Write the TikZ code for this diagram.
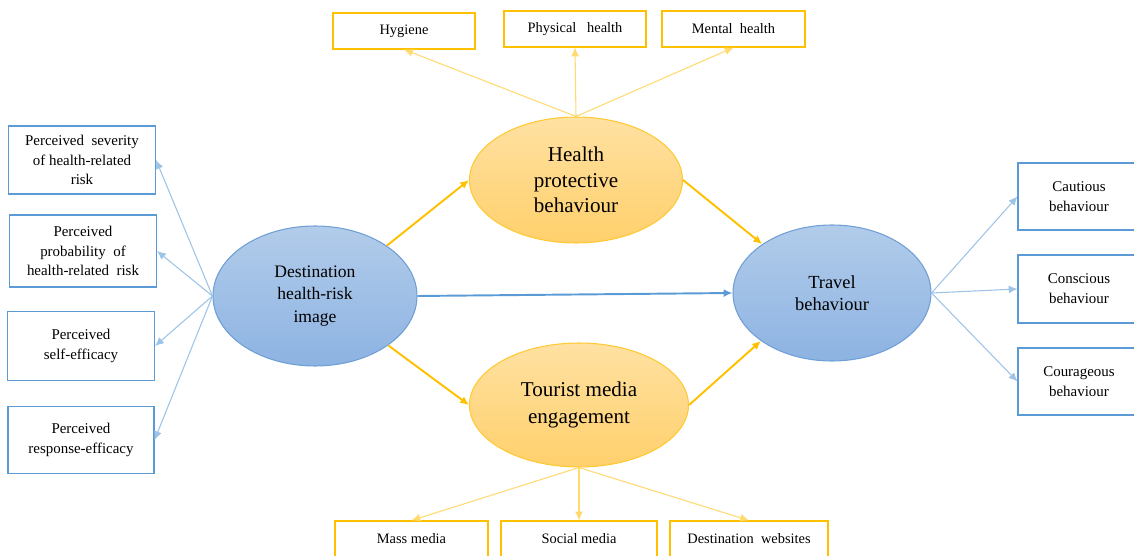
\documentclass[tikz,border=0pt]{standalone}
\usepackage{fontspec}
\setmainfont{Liberation Serif}
\usetikzlibrary{arrows.meta,shapes.geometric}

\definecolor{bluedge}{HTML}{6E9FD6}
\definecolor{bluetop}{HTML}{B2CCEA}
\definecolor{bluebot}{HTML}{8DB3E2}
\definecolor{boxblue}{HTML}{5B9BD5}
\definecolor{linkblue}{HTML}{9DC3E6}
\definecolor{goldedge}{HTML}{FFC933}
\definecolor{goldtop}{HTML}{FFE1A2}
\definecolor{goldbot}{HTML}{FFD06C}
\definecolor{gold}{HTML}{FFC000}
\definecolor{linkgold}{HTML}{FFDA6E}

\begin{document}
\begin{tikzpicture}[>={Latex[length=5pt,width=4.5pt]},
	blueell/.style={ellipse,draw=bluedge,line width=0.6pt,top color=bluetop,bottom color=bluebot,inner sep=0pt,align=center},
	goldell/.style={ellipse,draw=goldedge,line width=0.6pt,top color=goldtop,bottom color=goldbot,inner sep=0pt,align=center,font=\fontsize{12}{14.5}\selectfont},
	bluebox/.style={draw=boxblue,line width=0.6pt,align=center,inner sep=0pt,font=\fontsize{8.5}{11.3}\selectfont},
	goldbox/.style={draw=gold,line width=0.6pt,align=center,inner sep=0pt,font=\fontsize{8.2}{10}\selectfont},
	bluelink/.style={->,draw=linkblue,line width=0.6pt},
	goldlink/.style={->,draw=linkgold,line width=0.6pt},
	mainlink/.style={->,draw=gold,line width=1.1pt}]

\useasboundingbox (0,0) rectangle (22.68,-11.12);

\node[blueell,minimum width=4.08cm,minimum height=2.80cm,font=\fontsize{10}{12.9}\selectfont] (dest) at (6.30,-5.92) {Destination\\health-risk\\image};
\node[goldell,minimum width=4.26cm,minimum height=2.52cm] (hpb) at (11.52,-3.60) {Health\\protective\\behaviour};
\node[goldell,minimum width=4.38cm,minimum height=2.48cm,font=\fontsize{12}{15}\selectfont] (tme) at (11.58,-8.10) {Tourist media\\engagement};
\node[blueell,minimum width=3.96cm,minimum height=2.72cm,font=\fontsize{10.5}{12.3}\selectfont] (trav) at (16.64,-5.86) {Travel\\behaviour};

\node[bluebox,minimum width=2.94cm,minimum height=1.36cm] (sev) at (1.64,-3.20) {Perceived\ \ severity\\of health-related\\risk};
\node[bluebox,minimum width=2.94cm,minimum height=1.44cm] (prob) at (1.66,-5.02) {Perceived\\probability\ \ of\\health-related\ \ risk};
\node[bluebox,minimum width=2.94cm,minimum height=1.38cm] (self) at (1.62,-6.92) {Perceived\\self-efficacy};
\node[bluebox,minimum width=2.92cm,minimum height=1.34cm] (resp) at (1.62,-8.80) {Perceived\\response-efficacy};

\node[goldbox,minimum width=2.84cm,minimum height=0.72cm] (hyg) at (8.08,-0.62) {Hygiene};
\node[goldbox,minimum width=2.84cm,minimum height=0.72cm] (phys) at (11.50,-0.58) {Physical\ \ \ health};
\node[goldbox,minimum width=2.86cm,minimum height=0.72cm] (ment) at (14.67,-0.58) {Mental\ \ health};

\node[goldbox,minimum width=3.06cm,minimum height=0.72cm] (mass) at (8.23,-10.78) {Mass media};
\node[goldbox,minimum width=3.12cm,minimum height=0.72cm] (soc) at (11.58,-10.78) {Social media};
\node[goldbox,minimum width=3.16cm,minimum height=0.72cm] (web) at (14.98,-10.78) {Destination\ \ websites};

\node[bluebox,minimum width=2.44cm,minimum height=1.34cm] (caut) at (21.58,-3.93) {Cautious\\behaviour};
\node[bluebox,minimum width=2.44cm,minimum height=1.36cm] (consc) at (21.58,-5.78) {Conscious\\behaviour};
\node[bluebox,minimum width=2.44cm,minimum height=1.34cm] (cour) at (21.58,-7.63) {Courageous\\behaviour};

\foreach \b in {sev,prob,self,resp}
	\draw[bluelink] (dest.west) -- (\b.east);
\foreach \b in {hyg,phys,ment}
	\draw[goldlink] (hpb.north) -- (\b.south);
\foreach \b in {mass,soc,web}
	\draw[goldlink] (tme.south) -- (\b.north);
\foreach \b in {caut,consc,cour}
	\draw[bluelink] (trav.east) -- (\b.west);

\draw[mainlink] (dest.35) -- (hpb.west);
\draw[mainlink] (hpb.east) -- (trav.145);
\draw[mainlink] (dest.-34) -- (tme.west);
\draw[mainlink] (tme.east) -- (trav.214);
\draw[->,draw=boxblue,line width=1.1pt] (dest.east) -- (trav.west);

\end{tikzpicture}
\end{document}
